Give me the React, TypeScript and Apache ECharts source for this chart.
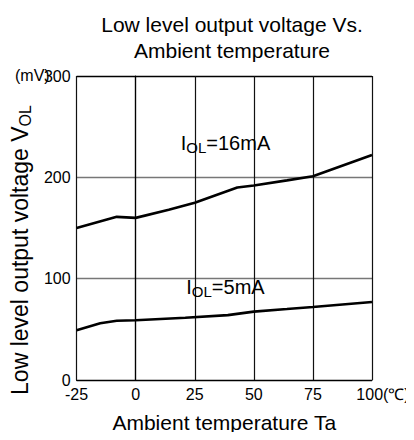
import React, { useEffect, useRef } from "react";
import * as echarts from "echarts";

const temps16 = [-25, -8, 0, 14, 25, 43, 50, 64, 75, 100];
const vol16 = [150, 161, 160, 168, 175, 190, 192, 197, 201, 222];
const temps5 = [-25, -15, -8, 0, 21, 39, 50, 64, 75, 100];
const vol5 = [49, 56, 58.5, 59, 61.5, 64, 67.5, 70, 72, 77];
const xTicks = [-25, 0, 25, 50, 75, 100];
const yTicks = [0, 100, 200, 300];
const label16 = { x: 38, y: 234, text: "16mA" };
const label5 = { x: 38, y: 92, text: "5mA" };

const FONT = "'Liberation Sans', Arial, sans-serif";

export default function App() {
  const ref = useRef<HTMLDivElement>(null);
  useEffect(() => {
    if (!ref.current) return;
    const chart = echarts.init(ref.current, null, { renderer: "svg" });
    const richSub = {
      s: { fontSize: 15, fontFamily: FONT, color: "#000", padding: [10, 0, 0, 0] },
      m: { fontSize: 20, fontFamily: FONT, color: "#000" },
    };
    const mk = (lab: { x: number; y: number; text: string }) => ({
      symbol: "circle",
      symbolSize: 0,
      silent: true,
      data: [
        {
          coord: [lab.x, lab.y],
          label: {
            show: true,
            position: "inside",
            formatter: `{m|I}{s|OL}{m|=${lab.text}}`,
            rich: richSub,
          },
        },
      ],
    });
    chart.setOption({
      animation: false,
      textStyle: { fontFamily: FONT },
      title: {
        text: "Low level output voltage Vs.\nAmbient temperature",
        left: 227,
        textAlign: "center",
        top: 6,
        textStyle: {
          fontSize: 21,
          fontWeight: "normal",
          color: "#000",
          fontFamily: FONT,
          lineHeight: 26,
        },
      },
      grid: { left: 74, right: 42, top: 76, bottom: 60, containLabel: false },
      xAxis: {
        type: "value",
        min: xTicks[0],
        max: xTicks[xTicks.length - 1],
        interval: 25,
        axisLine: { show: true, lineStyle: { color: "#000", width: 1.2 } },
        axisTick: { show: false },
        splitLine: { show: true, lineStyle: { color: "#111", width: 1.2 } },
        axisLabel: {
          fontSize: 16,
          color: "#000",
          margin: 6,
          fontFamily: FONT,
          formatter: (v: number) => (v === 100 ? "{p|100(℃)}" : String(v)),
          rich: { p: { fontSize: 16, color: "#000", fontFamily: FONT, padding: [0, 0, 0, 22] } },
        },
        name: "Ambient temperature Ta",
        nameLocation: "middle",
        nameGap: 32,
        nameTextStyle: { fontSize: 21, color: "#000", fontFamily: FONT },
      },
      yAxis: {
        type: "value",
        min: yTicks[0],
        max: yTicks[yTicks.length - 1],
        interval: 100,
        axisLine: { show: true, lineStyle: { color: "#000", width: 1.2 } },
        axisTick: { show: false },
        splitLine: {
          show: true,
          lineStyle: { color: ["#000", "#777", "#777", "#000"], width: 1.3 },
        },
        axisLabel: { fontSize: 16, color: "#000", margin: 6, fontFamily: FONT },
        name: "{m|Low level output voltage V}{s|OL}",
        nameLocation: "middle",
        nameGap: 23,
        nameTextStyle: {
          padding: [0, 44, 0, 0],
          rich: {
            m: { fontSize: 23, color: "#000", fontFamily: FONT },
            s: { fontSize: 16, color: "#000", fontFamily: FONT, padding: [11, 0, 0, 0] },
          },
        },
      },
      graphic: [
        {
          type: "text",
          left: 15,
          top: 67,
          style: { text: "(mV)", fontSize: 16, fill: "#000", fontFamily: FONT },
        },
      ],
      series: [
        {
          type: "line",
          data: temps16.map((t, i) => [t, vol16[i]]),
          showSymbol: false,
          lineStyle: { color: "#000", width: 2.6 },
          markPoint: mk(label16),
        },
        {
          type: "line",
          data: temps5.map((t, i) => [t, vol5[i]]),
          showSymbol: false,
          lineStyle: { color: "#000", width: 2.6 },
          markPoint: mk(label5),
        },
      ],
    });
    return () => chart.dispose();
  }, []);
  return <div ref={ref} style={{ width: 414, height: 440, margin: -8 }} />;
}
